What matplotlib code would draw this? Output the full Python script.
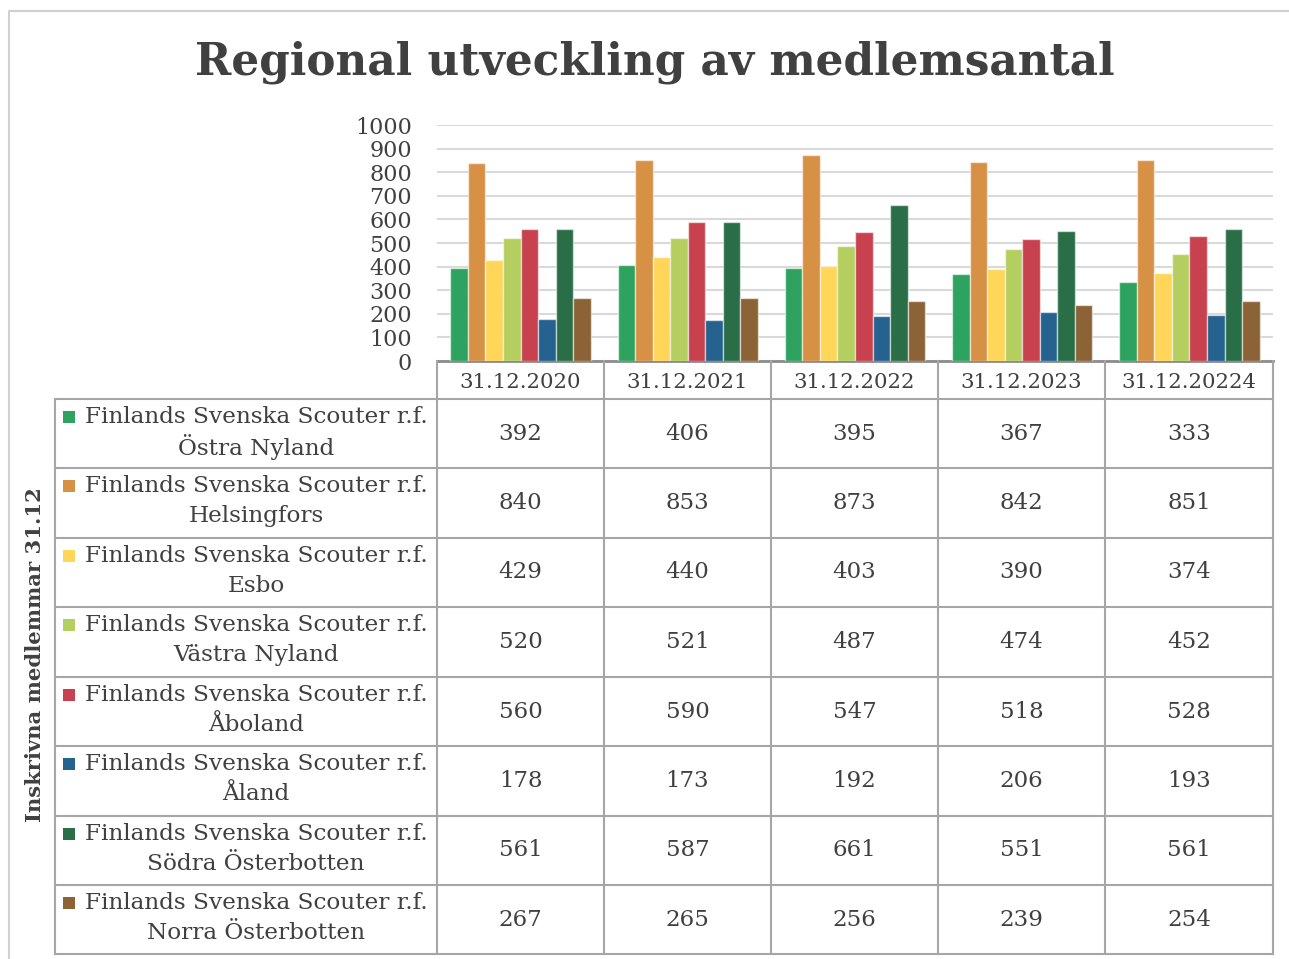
import matplotlib
matplotlib.use('Agg')
import matplotlib.pyplot as plt
from matplotlib.patches import Rectangle
import numpy as np

# ---------------------------------------------------------------------------
# Data
# ---------------------------------------------------------------------------
dates = ["31.12.2020", "31.12.2021", "31.12.2022", "31.12.2023", "31.12.20224"]
prefix = "Finlands Svenska Scouter r.f."
region_names = ["Östra Nyland", "Helsingfors", "Esbo", "Västra Nyland",
                "Åboland", "Åland", "Södra Österbotten", "Norra Österbotten"]

ostra_nyland      = [392, 406, 395, 367, 333]
helsingfors       = [840, 853, 873, 842, 851]
esbo              = [429, 440, 403, 390, 374]
vastra_nyland     = [520, 521, 487, 474, 452]
aboland           = [560, 590, 547, 518, 528]
aland             = [178, 173, 192, 206, 193]
sodra_osterbotten = [561, 587, 661, 551, 561]
norra_osterbotten = [267, 265, 256, 239, 254]

series = [ostra_nyland, helsingfors, esbo, vastra_nyland,
          aboland, aland, sodra_osterbotten, norra_osterbotten]
colors = ['#2ea35f', '#d69145', '#ffd65a', '#b4cf5f',
          '#c8414f', '#26628f', '#2a6e48', '#8b6337']

TXT = '#404040'
GRID = '#d9d9d9'
LINE = '#a6a6a6'
FONT = 'DejaVu Serif'

W, H = 1289, 959
fig = plt.figure(figsize=(W / 100, H / 100), dpi=100)
fig.patch.set_facecolor('white')

# ---------------------------------------------------------------------------
# Bar area (pixel geometry of the reference)
# ---------------------------------------------------------------------------
x0, x1 = 437, 1273
y_top, y_bot = 125, 361
ax = fig.add_axes([x0 / W, 1 - y_bot / H, (x1 - x0) / W, (y_bot - y_top) / H])
n = len(series)
bw = 0.105
x = np.arange(len(dates))
for i, (vals, c) in enumerate(zip(series, colors)):
    ax.bar(x + (i - (n - 1) / 2) * bw, vals, bw, color=c,
           edgecolor=(1, 1, 1, 0.55), linewidth=1.0, zorder=3)

ax.set_xlim(-0.5, len(dates) - 0.5)
ax.set_ylim(0, 1000)
ax.set_yticks(range(0, 1001, 100))
ax.yaxis.grid(True, color=GRID, linewidth=1.5, zorder=0)
ax.set_axisbelow(True)
ax.set_xticks([])
for s in ['top', 'right', 'left']:
    ax.spines[s].set_visible(False)
ax.spines['bottom'].set_color('#8c8c8c')
ax.spines['bottom'].set_linewidth(2)
ax.tick_params(axis='y', length=0, pad=18, labelsize=16, labelcolor=TXT)
for lbl in ax.get_yticklabels():
    lbl.set_fontfamily(FONT)

# ---------------------------------------------------------------------------
# Overlay in pixel coordinates: title, border, data table
# ---------------------------------------------------------------------------
ov = fig.add_axes([0, 0, 1, 1], zorder=5)
ov.set_xlim(0, W)
ov.set_ylim(H, 0)
ov.axis('off')
ov.patch.set_alpha(0)

# outer chart border
ov.plot([9, 9, W], [H, 11, 11], color='#d0d0d0', lw=1.5)

ov.text(655, 62, "Regional utveckling av medlemsantal", ha='center', va='center',
        fontsize=31.5, fontweight='bold', color=TXT, family=FONT)

col_edges = [437, 604, 771, 938, 1105, 1273]
row_edges = [399, 468, 538, 607, 677, 746, 816, 885, 954]
label_left = 55

# header row
for j, d in enumerate(dates):
    cx = (col_edges[j] + col_edges[j + 1]) / 2
    ov.text(cx, 382, d, ha='center', va='center', fontsize=15.3,
            color=TXT, family=FONT)

# grid lines
for xe in col_edges:
    ov.plot([xe, xe], [y_bot, row_edges[-1]], color=LINE, lw=1.5)
ov.plot([label_left, label_left], [row_edges[0], row_edges[-1]], color=LINE, lw=1.5)
for ye in row_edges:
    ov.plot([label_left, col_edges[-1]], [ye, ye], color=LINE, lw=1.5)

# rows
for i, (name, vals, c) in enumerate(zip(region_names, series, colors)):
    top, bot = row_edges[i], row_edges[i + 1]
    ov.add_patch(Rectangle((63, top + 12), 12, 12, facecolor=c, edgecolor='none'))
    ov.text(256, top + 18, prefix, ha='center', va='center', fontsize=16.7,
            color=TXT, family=FONT)
    ov.text(256, top + 48, name, ha='center', va='center', fontsize=16.7,
            color=TXT, family=FONT)
    for j, v in enumerate(vals):
        cx = (col_edges[j] + col_edges[j + 1]) / 2
        ov.text(cx, (top + bot) / 2, str(v), ha='center', va='center',
                fontsize=16.5, color=TXT, family=FONT)

ov.text(35, 655, "Inskrivna medlemmar 31.12", rotation=90, ha='center',
        va='center', fontsize=15.2, fontweight='bold', color=TXT, family=FONT)

fig.savefig('out.png', dpi=100)
